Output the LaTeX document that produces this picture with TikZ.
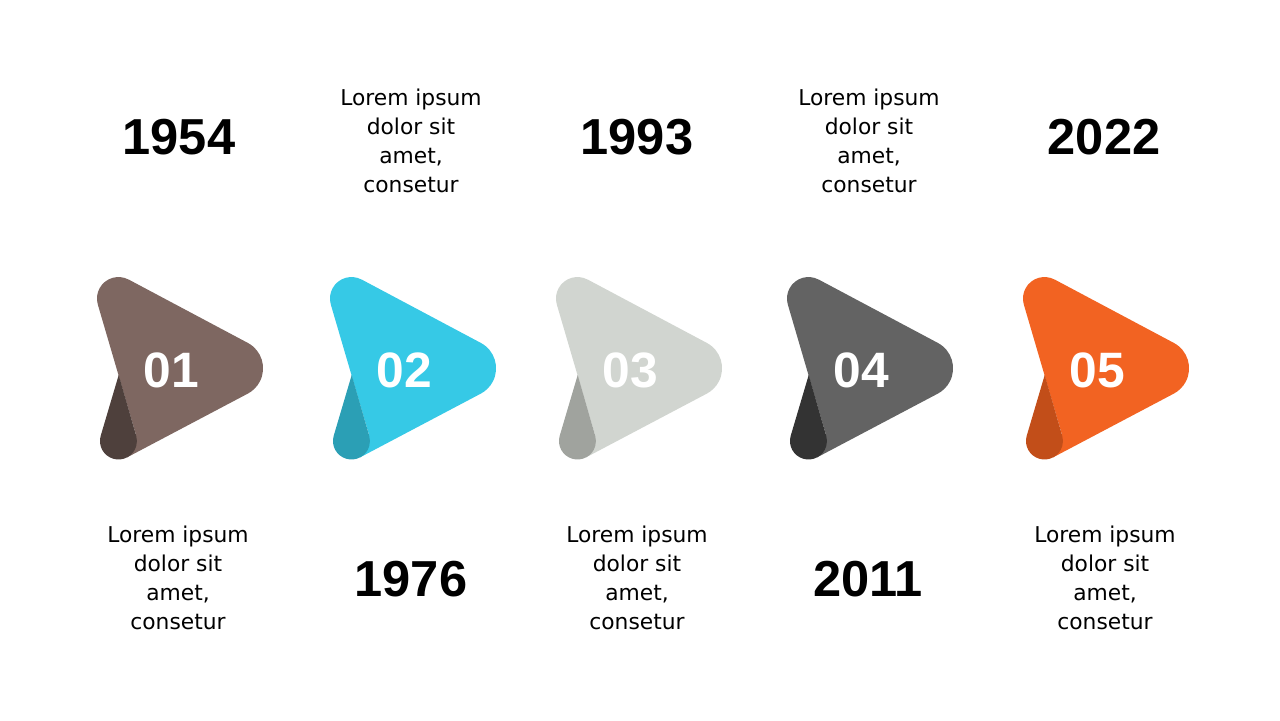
\documentclass[tikz,border=0pt]{standalone}
\usepackage{fontspec}
\setmainfont{DejaVu Sans}
\newfontfamily\headfont{Liberation Sans}
\usetikzlibrary{positioning}

\definecolor{taupe}{HTML}{7E6761}
\definecolor{taupedark}{HTML}{4E403C}
\definecolor{sky}{HTML}{36C9E6}
\definecolor{skydark}{HTML}{2B9FB5}
\definecolor{ash}{HTML}{D1D5D0}
\definecolor{ashdark}{HTML}{A0A39E}
\definecolor{slate}{HTML}{636363}
\definecolor{slatedark}{HTML}{333333}
\definecolor{flame}{HTML}{F26322}
\definecolor{flamedark}{HTML}{C24E19}

\begin{document}
\begin{tikzpicture}[x=0.02cm, y=-0.02cm,
  year/.style={font=\headfont\bfseries\fontsize{28.8}{34}\selectfont, text centered},
  lorem/.style={font=\fontsize{12.4}{16.4}\selectfont, align=center},
  num/.style={font=\headfont\bfseries\fontsize{28.3}{34}\selectfont, text=white}]
  \useasboundingbox (0,0) rectangle (1280,720);
  % arrows %
  \foreach \i/\cx/\main/\fold in {1/178/taupe/taupedark, 2/411/sky/skydark,
      3/637/ash/ashdark, 4/868/slate/slatedark, 5/1104/flame/flamedark} {
    \begin{scope}[shift={(\cx,368)}]
      \fill[\main] (-49.4,-88.5) -- (69.8,-25.1) arc[start angle=-62.1, end angle=62.1, radius=28.7]
        -- (-50.8,89.3) -- (-59.5,73) -- (-41.7,67.8)
        -- (-80.2,-63.5) arc[start angle=163.9, end angle=297.9, radius=21.5] -- cycle;
      \fill[\fold] (-59.3,7) -- (-77.3,67.8) arc[start angle=196.3, end angle=-16.3, radius=18.5] -- cycle;
    \end{scope}
    \node[num] (n\i) at (\cx-6.5,370) {0\i};
  }
  % upper row %
  \node[year] (y1) at (179,137) {1954};
  \node[lorem] (l2) at (411,141) {Lorem ipsum\\dolor sit\\amet,\\consetur};
  \node[year] (y3) at (637,137) {1993};
  \node[lorem] (l4) at (869,141) {Lorem ipsum\\dolor sit\\amet,\\consetur};
  \node[year] (y5) at (1104,137) {2022};
  % lower row %
  \node[lorem] (l1) at (178,578) {Lorem ipsum\\dolor sit\\amet,\\consetur};
  \node[year] (y2) at (411,579) {1976};
  \node[lorem] (l3) at (637,578) {Lorem ipsum\\dolor sit\\amet,\\consetur};
  \node[year] (y4) at (868,579) {2011};
  \node[lorem] (l5) at (1105,578) {Lorem ipsum\\dolor sit\\amet,\\consetur};
\end{tikzpicture}
\end{document}
